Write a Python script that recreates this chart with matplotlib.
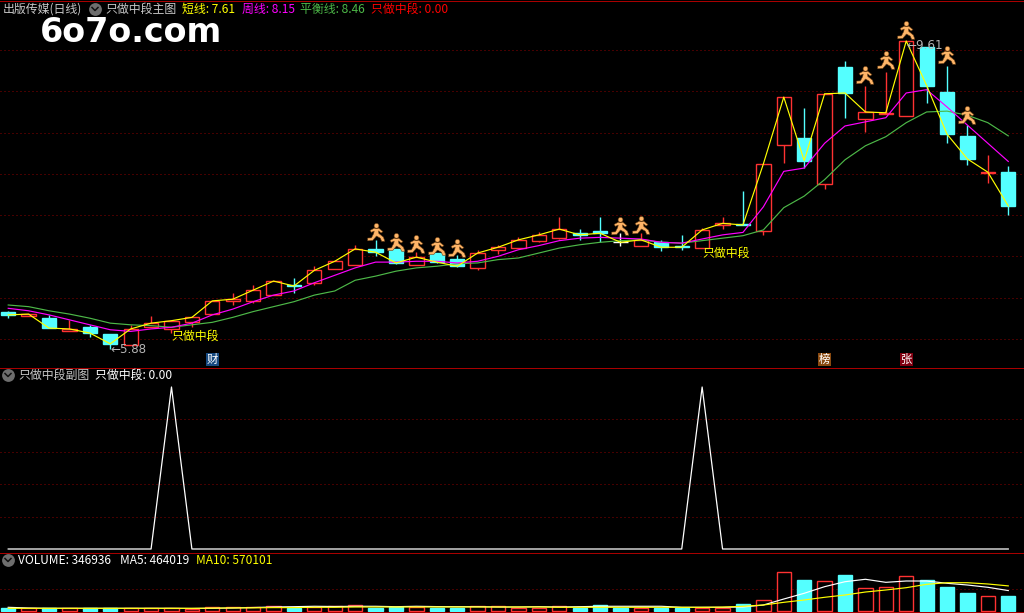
"""Tongdaxin-style daily chart: candles + MAs, signal panel, volume panel."""
import matplotlib
matplotlib.use("Agg")
import matplotlib.pyplot as plt
import numpy as np
from matplotlib.path import Path as MPath

W, H = 1024, 613
plt.rcParams["font.family"] = ["Noto Sans CJK SC", "DejaVu Sans"]

# daily bars, in yuan
opens = [6.33, 6.28, 6.25, 6.09, 6.14, 6.06, 5.93, 6.14, 6.12, 6.20,
         6.30, 6.46, 6.46, 6.53, 6.65, 6.68, 6.85, 6.89, 7.09, 7.09,
         6.89, 7.04, 6.97, 6.86, 7.08, 7.10, 7.19, 7.22, 7.28, 7.31,
         7.17, 7.13, 7.17, 7.12, 7.10, 7.38, 7.39, 7.31, 8.35, 8.43,
         7.88, 9.30, 8.66, 8.73, 8.70, 9.54, 8.99, 8.46, 8.01, 8.02]
closes = [6.29, 6.30, 6.13, 6.12, 6.07, 5.94, 6.12, 6.19, 6.22, 6.26,
          6.46, 6.48, 6.59, 6.70, 6.64, 6.83, 6.94, 7.09, 7.05, 6.92,
          6.99, 6.93, 6.88, 7.04, 7.11, 7.20, 7.26, 7.33, 7.26, 7.28,
          7.17, 7.20, 7.11, 7.11, 7.32, 7.40, 7.38, 8.12, 8.93, 8.16,
          8.97, 8.98, 8.75, 8.74, 9.61, 9.07, 8.48, 8.18, 8.02, 7.61]
highs = [6.34, 6.30, 6.29, 6.23, 6.17, 6.06, 6.17, 6.28, 6.22, 6.26,
         6.46, 6.56, 6.65, 6.70, 6.74, 6.88, 6.94, 7.14, 7.20, 7.09,
         7.05, 7.04, 7.02, 7.08, 7.14, 7.23, 7.29, 7.48, 7.33, 7.48,
         7.28, 7.28, 7.20, 7.26, 7.34, 7.48, 7.79, 8.12, 8.93, 8.80,
         8.97, 9.37, 9.06, 9.23, 9.61, 9.54, 9.31, 8.59, 8.23, 8.09]
lows = [6.25, 6.28, 6.13, 6.09, 6.02, 5.88, 5.93, 6.14, 6.07, 6.14,
        6.30, 6.41, 6.43, 6.53, 6.56, 6.65, 6.85, 6.89, 7.00, 6.91,
        6.89, 6.92, 6.87, 6.83, 7.03, 7.10, 7.17, 7.21, 7.20, 7.17,
        7.13, 7.13, 7.06, 7.08, 7.10, 7.33, 7.38, 7.26, 8.13, 8.07,
        7.82, 8.68, 8.51, 8.74, 8.70, 8.86, 8.37, 8.11, 7.89, 7.50]
week_line = [6.37, 6.34, 6.29, 6.23, 6.17, 6.11, 6.09, 6.12, 6.14, 6.19,
             6.29, 6.36, 6.45, 6.53, 6.58, 6.68, 6.77, 6.86, 6.93, 6.93,
             6.94, 6.94, 6.92, 6.94, 7.00, 7.08, 7.13, 7.19, 7.22, 7.23,
             7.22, 7.21, 7.17, 7.16, 7.21, 7.26, 7.29, 7.60, 8.03, 8.07,
             8.37, 8.58, 8.63, 8.68, 8.98, 9.02, 8.81, 8.59, 8.37, 8.15]
balance_line = [6.41, 6.39, 6.34, 6.30, 6.25, 6.19, 6.17, 6.16, 6.14, 6.17,
                6.20, 6.26, 6.33, 6.39, 6.45, 6.53, 6.58, 6.71, 6.76, 6.82,
                6.86, 6.88, 6.91, 6.92, 6.96, 6.98, 7.04, 7.10, 7.14, 7.17,
                7.19, 7.20, 7.17, 7.16, 7.19, 7.22, 7.25, 7.32, 7.59, 7.73,
                7.93, 8.17, 8.34, 8.45, 8.62, 8.75, 8.76, 8.71, 8.62, 8.46]
runner_idx = [18, 19, 20, 21, 22, 30, 31, 42, 43, 44, 46, 47]
runner_price = [7.29, 7.17, 7.15, 7.13, 7.10, 7.37, 7.38, 9.20, 9.38, 9.74, 9.44, 8.71]
signal = [0, 0, 0, 0, 0, 0, 0, 0, 1, 0, 0, 0, 0, 0, 0, 0, 0, 0, 0, 0,
          0, 0, 0, 0, 0, 0, 0, 0, 0, 0, 0, 0, 0, 0, 1, 0, 0, 0, 0, 0,
          0, 0, 0, 0, 0, 0, 0, 0, 0, 0]
volume = [61000, 61000, 61000, 61000, 61000, 61000, 61000, 61000, 61000, 45000,
          91000, 91000, 91000, 107000, 61000, 84000, 107000, 136000, 61000, 98000,
          98000, 75000, 68000, 107000, 107000, 75000, 75000, 107000, 75000, 136000,
          75000, 61000, 75000, 75000, 75000, 75000, 159000, 243000, 878000, 704000,
          674000, 817000, 515000, 538000, 788000, 704000, 545000, 409000, 334000, 346936]
vol_ma5 = [84000, 68000, 61000, 61000, 61000, 61000, 61000, 61000, 61000, 57000,
           61000, 68000, 79000, 91000, 98000, 107000, 102000, 107000, 107000, 98000,
           107000, 100000, 98000, 98000, 91000, 91000, 98000, 91000, 98000, 107000,
           107000, 107000, 107000, 84000, 84000, 84000, 91000, 136000, 272000, 402000,
           552000, 665000, 720000, 651000, 681000, 681000, 629000, 590000, 538000, 464019]
vol_ma10 = [61000, 61000, 61000, 61000, 61000, 61000, 61000, 61000, 61000, 61000,
            66000, 70000, 72000, 77000, 77000, 84000, 84000, 91000, 91000, 91000,
            91000, 91000, 91000, 91000, 91000, 91000, 91000, 84000, 84000, 84000,
            84000, 84000, 84000, 84000, 84000, 89000, 107000, 136000, 197000, 250000,
            311000, 363000, 431000, 477000, 529000, 606000, 642000, 642000, 613000, 570101]
price_grid = [6.0, 6.5, 7.0, 7.5, 8.0, 8.5, 9.0, 9.5]
signal_grid = [0.2, 0.4, 0.6, 0.8]
volume_grid = [500000]

RED = "#ff3232"
CYAN = "#54ffff"
GRID = "#8c0000"
SEP = "#a80000"
GRAY = "#b4b4b4"
PX = 0.72  # one device pixel at dpi 100
LINE = 0.85
BOX = 1.0  # box edges need a little extra to stay bright after snapping

x = np.arange(len(closes))
xlim = (-0.402, 49.77)
BODY = 0.70


def candle_colors(op, cl):
    edge, face = [], []
    for o, c in zip(op, cl):
        if c > o:
            edge.append(RED)
            face.append("black")
        elif c < o:
            edge.append(CYAN)
            face.append(CYAN)
        else:
            edge.append("white")
            face.append("white")
    return edge, face


def panel(y0, y1, ylim, grid):
    ax = fig.add_axes([0, 1 - y1 / H, 1, (y1 - y0) / H])
    ax.set_xlim(*xlim)
    ax.set_ylim(*ylim)
    ax.axis("off")
    for g in grid:
        ax.axhline(g, color=GRID, lw=PX, ls=(0, (1, 3)), zorder=0, snap=True)
    return ax


def bars(ax, heights, bottom, edge, face):
    for b in ax.bar(x, heights, bottom=bottom, width=BODY, color=face, edgecolor=edge,
                    linewidth=BOX, zorder=3):
        b.set_snap(True)


def label(px, py, s, color, size=8.6, **kw):
    fig.text(px / W, 1 - py / H, s, color=color, fontsize=size, va="center", ha="left", **kw)


def chevron(px, py):
    bg.scatter([px], [py], s=85, color="#6e6e6e", linewidths=0, zorder=3)
    bg.plot([px - 3, px, px + 3], [py - 1.5, py + 1.5, py - 1.5], color="#111111", lw=1.1, zorder=4)


fig = plt.figure(figsize=(W / 100, H / 100), dpi=100, facecolor="black")

# pixel overlay for the little header icons and panel separators
bg = fig.add_axes([0, 0, 1, 1])
bg.set_xlim(0, W)
bg.set_ylim(H, 0)
bg.axis("off")
for sep_y in (0.5, 367.5, 552.5, 611.5):
    bg.axhline(sep_y, color=SEP, lw=PX, snap=True)
chevron(95, 9)
chevron(8, 375)
chevron(8, 560)

# main panel
main = panel(0, 367, (10.107 - 367 / 82.5, 10.107), price_grid)
edge, face = candle_colors(opens, closes)
main.vlines(x, lows, highs, colors=edge, lw=BOX, zorder=2, snap=True)
bars(main, np.array(closes) - np.array(opens), opens, edge, face)
main.plot(x, balance_line, color="#4db848", lw=LINE, zorder=4)
main.plot(x, week_line, color="#ff00ff", lw=LINE, zorder=5)
main.plot(x, closes, color="#ffff00", lw=LINE, zorder=6)

runner = MPath.make_compound_path(
    MPath.circle((0.0, 0.72), 0.26),
    MPath(np.array([(-0.25, 0.46), (0.25, 0.46), (0.7, 0.1), (0.5, -0.05), (0.22, 0.18),
                    (0.25, -0.1), (0.75, -0.5), (0.9, -0.95), (0.55, -0.95), (0.42, -0.62),
                    (0.0, -0.38), (-0.4, -0.85), (-0.95, -0.9), (-0.95, -0.6), (-0.55, -0.58),
                    (-0.3, -0.1), (-0.25, 0.15), (-0.55, 0.02), (-0.7, 0.22), (-0.25, 0.46)]),
          closed=True),
)
main.scatter(runner_idx, runner_price, marker=runner, s=170, facecolor="#ffb568",
             edgecolor="#6a3f14", linewidth=0.4, zorder=8)

main.text(8, 6.03, "只做中段", color="#ffff00", fontsize=8.6, va="center", ha="left", zorder=9)
main.text(34, 7.04, "只做中段", color="#ffff00", fontsize=8.6, va="center", ha="left", zorder=9)
main.text(5, 5.865, "←5.88", color=GRAY, fontsize=8.6, va="center", ha="left", zorder=9,
          family="DejaVu Sans")
main.text(44, 9.55, "←9.61", color=GRAY, fontsize=8.6, va="center", ha="left", zorder=9,
          family="DejaVu Sans")
for idx, mark, col in ((10, "财", "#174a80"), (40, "榜", "#8a4a10"), (44, "张", "#800010")):
    main.text(idx, 5.75, mark, color="white", fontsize=8.2, va="center", ha="center", zorder=9,
              bbox=dict(boxstyle="square,pad=0.08", facecolor=col, edgecolor="none"))

# signal panel
sub = panel(367, 552, (-3 / 162, 182 / 162), signal_grid)
sub.plot(x, signal, color="white", lw=0.9, zorder=3)

# volume panel
vol = panel(552, 612, (-1 * 22700, 59 * 22700), volume_grid)
edge, face = candle_colors(opens, closes)
edge[30], face[30] = CYAN, CYAN
bars(vol, volume, 0, edge, face)
vol.plot(x, vol_ma10, color="#ffff00", lw=LINE, zorder=5)
vol.plot(x, vol_ma5, color="white", lw=LINE, zorder=4)

# header texts
label(3, 9, "出版传媒(日线)", "#c8c8c8")
label(105, 9, "只做中段主图", "#c8c8c8")
label(182, 9, f"短线: {closes[-1]:.2f}", "#ffff00")
label(242, 9, f"周线: {week_line[-1]:.2f}", "#ff00ff")
label(300, 9, f"平衡线: {balance_line[-1]:.2f}", "#4db848")
label(371, 9, "只做中段: 0.00", "#ff0000")
label(18, 375, "只做中段副图", "#c8c8c8")
label(95, 375, "只做中段: 0.00", "white")
label(18, 560, f"VOLUME: {volume[-1]}", "white")
label(120, 560, f"MA5: {vol_ma5[-1]}", "white")
label(196, 560, f"MA10: {vol_ma10[-1]}", "#ffff00")

# site watermark
fig.text(40 / W, 1 - 33 / H, "6o7o.com", color="white", fontsize=24, fontweight="bold",
         family="DejaVu Sans", va="center", ha="left")

fig.savefig("out.png", dpi=100, facecolor="black")
